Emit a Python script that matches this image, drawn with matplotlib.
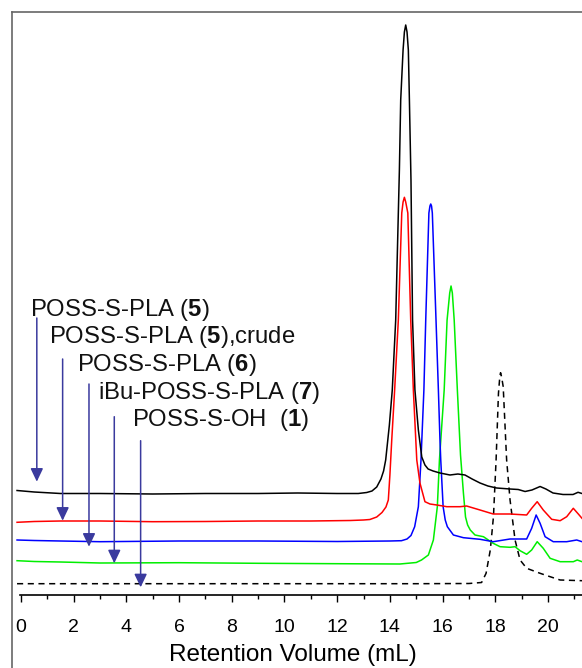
import matplotlib
matplotlib.use("Agg")
import matplotlib.pyplot as plt
from matplotlib.lines import Line2D

plt.rcParams['font.family'] = ['Liberation Sans', 'DejaVu Sans']
plt.rcParams['mathtext.fontset'] = 'custom'
plt.rcParams['mathtext.rm'] = 'Liberation Sans'
plt.rcParams['mathtext.bf'] = 'Liberation Sans:bold'

# GPC traces: retention volume (mL) vs. stacked detector signal (a.u.)
bk_v = [-0.15, 0.5, 1.5, 3, 5, 7, 9, 10.5, 12, 12.8, 13.12, 13.32, 13.5, 13.66, 13.76, 13.84, 13.98,
        14.09, 14.22, 14.36, 14.41, 14.5, 14.55, 14.6, 14.65, 14.7, 14.74, 14.8, 14.86, 14.95,
        15.08, 15.21, 15.33, 15.45, 15.64, 15.9, 16.28, 16.58, 16.85, 17.12, 17.42, 17.72, 18.05,
        18.56, 18.87, 19.13, 19.39, 19.7, 19.92, 20.19, 20.57, 20.95, 21.14, 21.29]
bk_s = [104.5, 103, 101.5, 101.5, 101, 101.5, 101.5, 102, 101.5, 101.5, 102.5, 104, 108, 116, 124, 135, 170,
        205, 275, 425, 495, 545, 563, 570, 563, 545, 495, 415, 275, 205,
        165, 138, 130, 126, 124, 122, 120, 121, 120, 116, 112, 109, 107,
        106, 105.5, 103.5, 105, 108.5, 106, 102, 100.5, 100.5, 102.7, 101.5]

rd_v = [-0.15, 0.5, 1.5, 3, 5, 7, 9, 11, 12.5, 13.0, 13.24, 13.5, 13.7, 13.85, 13.94, 14.0, 14.07,
        14.18, 14.32, 14.45, 14.5, 14.55, 14.6, 14.68, 14.79, 14.89, 15.02, 15.14, 15.33, 15.52,
        15.78, 16.16, 16.66, 16.91, 17.42, 17.92, 18.56, 19.19, 19.38, 19.59, 19.82, 20.14, 20.46,
        20.71, 20.96, 21.15, 21.29]
rd_s = [72.7, 73.5, 74, 74, 73.3, 73.5, 74, 74, 74.5, 75, 75.5, 78, 82.5, 88, 95, 120, 155,
        205, 275, 382, 393, 397.7, 393, 382, 275, 205, 135, 112, 93.3, 91,
        90, 88.3, 88.3, 89, 85, 81, 81, 80, 86.7, 93.3, 85, 75.7, 74.3,
        78.3, 86.7, 81, 76.7]

bl_v = [-0.15, 0.5, 1.5, 3, 6, 9, 12, 14.0, 14.44, 14.65, 14.8, 14.94, 15.08, 15.18, 15.29, 15.36,
        15.48, 15.52, 15.55, 15.58, 15.61, 15.75, 15.84, 15.9, 15.93, 16.02, 16.1, 16.18, 16.41, 16.79,
        17.42, 17.92, 18.56, 19.19, 19.38, 19.55, 19.7, 19.89, 20.2, 20.71, 21.09, 21.29]
bl_s = [55, 54.5, 54, 53.3, 54, 54, 53.5, 54, 54.3, 56, 59.5, 68.3, 88.3, 135, 205, 275,
        382, 389, 391, 389, 382, 275, 205, 155, 135, 88.3, 75, 68.3, 60, 57.3,
        55.7, 53.3, 56, 56, 66.7, 80, 71.7, 58.3, 53.3, 53.3, 55, 53.3]

gr_v = [-0.15, 0.5, 1.5, 3, 6, 9, 12, 14.38, 15.0, 15.2, 15.46, 15.65, 15.8, 15.88, 16.06, 16.17,
        16.27, 16.32, 16.37, 16.44, 16.56, 16.68, 16.79, 16.87, 16.95, 17.05, 17.23, 17.55, 17.92, 18.18,
        18.56, 18.75, 18.94, 19.19, 19.38, 19.59, 19.82, 20.08, 20.46, 20.96, 21.11, 21.29]
gr_s = [34.3, 33.5, 33, 32, 32.3, 31.7, 31.3, 31, 32.5, 35, 40, 55, 88.3, 135, 205, 275,
        302, 309, 302, 275, 205, 140, 102, 78, 70, 65, 60, 58.3, 51.7, 48.3,
        47.7, 48.3, 44.3, 40.7, 45, 53.3, 46.7, 36.7, 33.3, 33.3, 35, 33.3]

ds_v = [-0.15, 5, 10, 15, 17.0, 17.48, 17.65, 17.81, 17.93, 18.03, 18.12, 18.17, 18.2, 18.24,
        18.3, 18.43, 18.56, 18.75, 18.94, 19.19, 19.7, 20.08, 20.46, 21.29]
ds_s = [11.3, 11.3, 11.3, 11.3, 11.5, 12.5, 21.7, 45, 78.3, 135, 201.7, 218, 222.3, 218,
        208.3, 135, 95, 55, 35, 26.7, 21.7, 18.3, 15, 14.3]

# sample labels and the arrows pointing at each trace
labels = [r"POSS-S-PLA ($\mathbf{5}$)",
          r"POSS-S-PLA ($\mathbf{5}$),crude",
          r"POSS-S-PLA ($\mathbf{6}$)",
          r"iBu-POSS-S-PLA ($\mathbf{7}$)",
          r"POSS-S-OH  ($\mathbf{1}$)"]
label_x = [0.34, 1.07, 2.12, 2.93, 4.2]
label_y = [285, 258.3, 230, 202.3, 175]
arrow_x = [0.6, 1.58, 2.58, 3.54, 4.54]
arrow_top = [277, 236, 211, 178.3, 154.3]
arrow_tip = [113.3, 74.3, 48.3, 31.7, 7.7]

xticks = [0, 2, 4, 6, 8, 10, 12, 14, 16, 18, 20]

W, H = 582, 668
fig = plt.figure(figsize=(W / 100, H / 100), dpi=100)
x0_px = 21.0
px_per_ml = 26.35
xmin = -0.2
left_px = x0_px + xmin * px_per_ml
xmax = (W - x0_px) / px_per_ml
ax = fig.add_axes([left_px / W, 73 / H, (W - left_px) / W, 584 / H])
ax.set_xlim(xmin, xmax)
ax.set_ylim(0, 584)

lw = 1.1
ax.plot(ds_v, ds_s, color='black', lw=lw, ls=(0, (4, 3)))
ax.plot(gr_v, gr_s, color='#00ee00', lw=lw)
ax.plot(bl_v, bl_s, color='#0000ff', lw=lw)
ax.plot(rd_v, rd_s, color='#ff0000', lw=lw)
ax.plot(bk_v, bk_s, color='black', lw=lw)

arrow_color = '#3a3a9e'
for lab, lx, ly, axx, at, tip in zip(labels, label_x, label_y, arrow_x, arrow_top, arrow_tip):
    ax.text(lx, ly, lab, fontsize=17.2, ha='left', va='center', color='#111111')
    ax.annotate('', xy=(axx, tip), xytext=(axx, at),
                arrowprops=dict(arrowstyle='-|>,head_length=0.8,head_width=0.38',
                                color=arrow_color, lw=1.1, shrinkA=0, shrinkB=0))

for side in ['left', 'right', 'top']:
    ax.spines[side].set_visible(False)
ax.spines['bottom'].set_bounds(-0.05, xmax)
ax.spines['bottom'].set_linewidth(1.2)
ax.set_yticks([])
ax.set_xticks(xticks)
ax.set_xticks(range(1, 22, 2), minor=True)
ax.tick_params(axis='x', which='major', direction='out', length=5, width=1.0,
               labelsize=14, pad=12)
ax.tick_params(axis='x', which='minor', direction='out', length=2.8, width=1.0)
ax.set_xlabel('Retention Volume (mL)', fontsize=17.5)
ax.xaxis.set_label_coords((292.5 - left_px) / (W - left_px), (595 - 655) / 584)
ax.xaxis.label.set_va('center')

# outer frame (top and left edges)
fx = 11.5 / W
fy = 1 - 11.5 / H
fig.add_artist(Line2D([fx, 1], [fy, fy], transform=fig.transFigure, color='#666666', lw=1.2))
fig.add_artist(Line2D([fx, fx], [0, fy], transform=fig.transFigure, color='#666666', lw=1.2))

fig.savefig('out.png', dpi=100)
